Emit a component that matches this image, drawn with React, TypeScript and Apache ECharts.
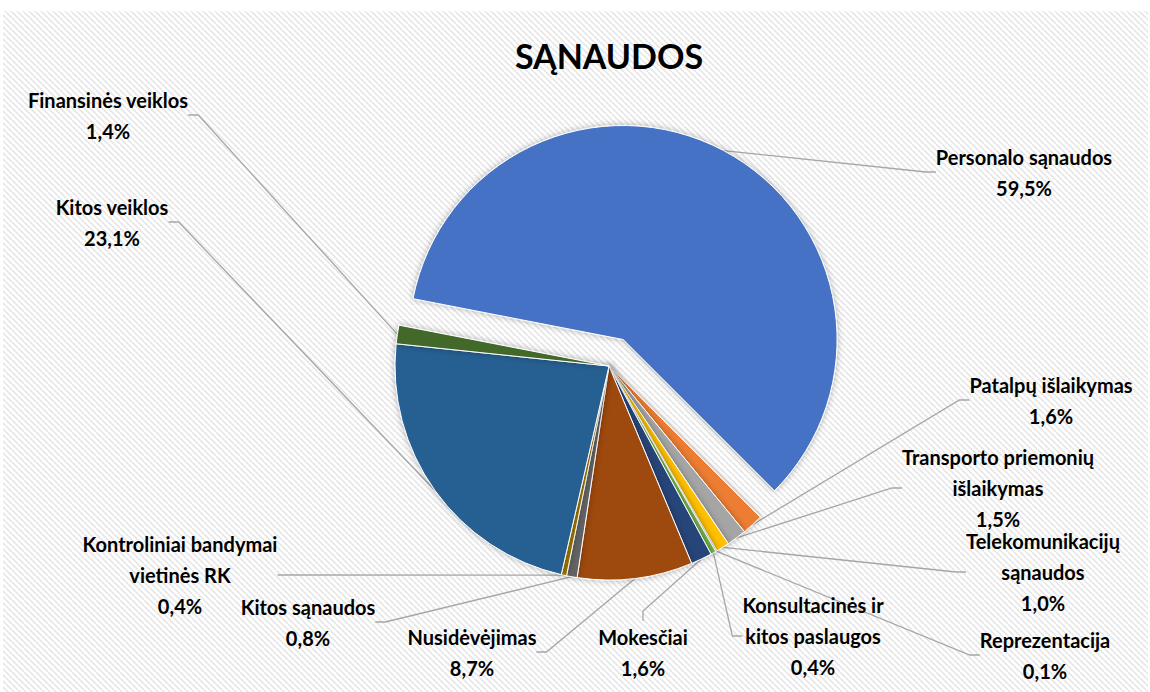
import React, { useEffect, useRef } from 'react';
import * as echarts from 'echarts';

const categories = [
  'Personalo sąnaudos',
  'Patalpų išlaikymas',
  'Transporto priemonių išlaikymas',
  'Telekomunikacijų sąnaudos',
  'Reprezentacija',
  'Konsultacinės ir kitos paslaugos',
  'Mokesčiai',
  'Nusidėvėjimas',
  'Kitos sąnaudos',
  'Kontroliniai bandymai vietinės RK',
  'Kitos veiklos',
  'Finansinės veiklos',
];
const values = [59.5, 1.6, 1.5, 1.0, 0.1, 0.4, 1.6, 8.7, 0.8, 0.4, 23.1, 1.4];
const labelTexts = [
  'Personalo sąnaudos',
  'Patalpų išlaikymas',
  'Transporto priemonių\nišlaikymas',
  'Telekomunikacijų\nsąnaudos',
  'Reprezentacija',
  'Konsultacinės ir\nkitos paslaugos',
  'Mokesčiai',
  'Nusidėvėjimas',
  'Kitos sąnaudos',
  'Kontroliniai bandymai\nvietinės RK',
  'Kitos veiklos',
  'Finansinės veiklos',
];
const colors = [
  '#4472C4', '#ED7D31', '#A5A5A5', '#FFC000', '#5B9BD5', '#70AD47',
  '#264478', '#9E480E', '#636363', '#997300', '#255E91', '#43682B',
];
const explodedIndex = 0;
// label block centres (layout)
const labelPos: [number, number][] = [
  [1024, 172], [1051, 400], [998, 488], [1043, 572], [1045, 655], [813, 636],
  [643, 652], [472, 652], [308, 622], [180, 575], [112, 222], [108, 115],
];

function makePattern(): HTMLCanvasElement {
  const c = document.createElement('canvas');
  c.width = 6;
  c.height = 6;
  const ctx = c.getContext('2d')!;
  ctx.fillStyle = '#ffffff';
  ctx.fillRect(0, 0, 6, 6);
  ctx.strokeStyle = '#e6e6e6';
  ctx.lineWidth = 1.6;
  for (const k of [-6, 0, 6]) {
    ctx.beginPath();
    ctx.moveTo(k, 0);
    ctx.lineTo(k + 6, 6);
    ctx.stroke();
  }
  return c;
}

export default function App() {
  const ref = useRef<HTMLDivElement>(null);
  useEffect(() => {
    if (!ref.current) return;
    const chart = echarts.init(ref.current, null, { renderer: 'svg' });
    const fmt = (v: number) => v.toFixed(1).replace('.', ',') + '%';
    const font = 'Lato, "Open Sans", sans-serif';
    const total = values.reduce((a, b) => a + b, 0);
    const startAngle = 169;
    const cx = 609;
    const cy = 366;
    const offset = 30;
    let before = 0;
    for (let i = 0; i < explodedIndex; i++) before += values[i];
    const midDeg = startAngle - ((before + values[explodedIndex] / 2) / total) * 360;
    const mid = (midDeg * Math.PI) / 180;
    const ex = cx + offset * Math.cos(mid);
    const ey = cy - offset * Math.sin(mid);

    const makeSeries = (exploded: boolean) => ({
      type: 'pie',
      center: exploded ? [ex, ey] : [cx, cy],
      radius: 214,
      startAngle,
      clockwise: true,
      avoidLabelOverlap: false,
      silent: true,
      label: {
        show: true,
        position: 'outside',
        color: '#000',
        fontFamily: font,
        fontWeight: 'bold',
        fontSize: 20,
        lineHeight: 31,
        align: 'center',
        formatter: (p: any) => labelTexts[p.dataIndex] + '\n' + fmt(p.value),
      },
      labelLine: {
        show: true,
        length: 10,
        length2: 10,
        lineStyle: { color: '#a6a6a6', width: 1.3 },
      },
      labelLayout: (p: any) => {
        const pos = labelPos[p.dataIndex];
        return { x: pos[0], y: pos[1], align: 'center', verticalAlign: 'middle' };
      },
      data: categories.map((name, i) => {
        const visible = exploded ? i === explodedIndex : i !== explodedIndex;
        return {
          name,
          value: values[i],
          itemStyle: visible
            ? {
                color: colors[i],
                borderColor: '#ffffff',
                borderWidth: 1,
                shadowBlur: 6,
                shadowColor: 'rgba(0,0,0,0.3)',
              }
            : { color: 'rgba(0,0,0,0)', borderWidth: 0, shadowBlur: 0 },
          label: { show: visible },
          labelLine: { show: visible },
        };
      }),
    });

    chart.setOption({
      animation: false,
      graphic: [
        {
          type: 'rect',
          z: -10,
          silent: true,
          shape: { x: 3, y: 11, width: 1145, height: 681 },
          style: { fill: { image: makePattern(), repeat: 'repeat' } as any },
        },
        {
          type: 'text',
          z: 10,
          x: 609,
          y: 55,
          style: {
            text: 'SĄNAUDOS',
            fill: '#000',
            font: 'bold 34px ' + font,
            align: 'center',
            verticalAlign: 'middle',
          },
        },
      ],
      series: [makeSeries(false), makeSeries(true)],
    });
    return () => chart.dispose();
  }, []);
  return (
    <div
      ref={ref}
      style={{ position: 'absolute', left: 0, top: 0, width: 1150, height: 692 }}
    />
  );
}
